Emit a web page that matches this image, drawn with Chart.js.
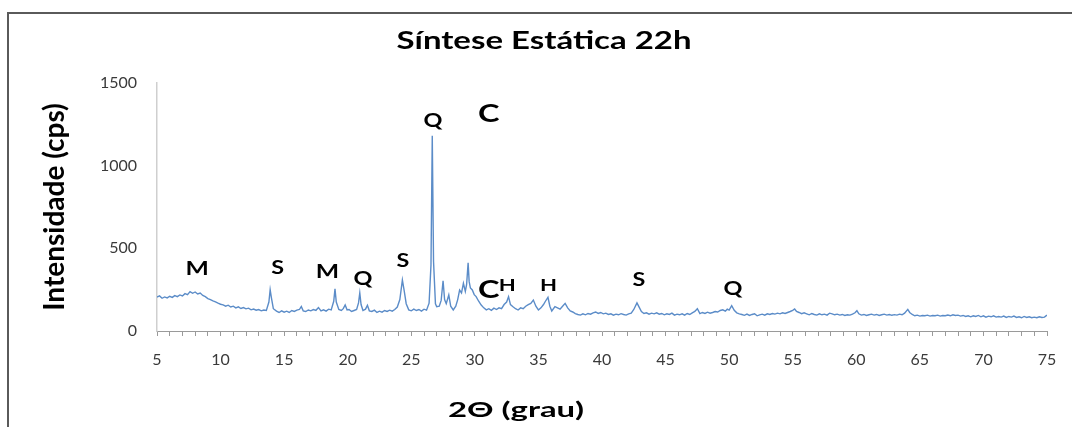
<!DOCTYPE html>
<html>
<head>
<meta charset="utf-8">
<script src="https://cdn.jsdelivr.net/npm/chart.js@4/dist/chart.umd.min.js"></script>
<style>
  html, body { margin: 0; padding: 0; background: #fff; }
  #wrap { width: 1072px; height: 427px; position: relative; }
</style>
</head>
<body>
<div id="wrap"><canvas id="xrdChart" width="1072" height="427"></canvas></div>
<script>
// 2θ (grau) and intensity (cps)
const twoTheta = [
  5.0, 5.2, 5.4, 5.6, 5.8, 6.0, 6.2, 6.4, 6.6, 6.8, 7.0, 7.2, 7.4, 7.6, 7.8, 8.0, 8.2, 8.4, 8.6, 8.8,
  9.0, 9.2, 9.4, 9.6, 9.8, 10.0, 10.2, 10.4, 10.6, 10.8, 11.0, 11.2, 11.4, 11.6, 11.8, 12.0, 12.2, 12.4, 12.6, 12.8,
  13.0, 13.2, 13.4, 13.6, 13.8, 13.9, 14.0, 14.15, 14.4, 14.6, 14.8, 15.0, 15.2, 15.4, 15.6, 15.8, 16.0, 16.2, 16.35, 16.5,
  16.7, 16.9, 17.1, 17.3, 17.5, 17.7, 17.9, 18.1, 18.3, 18.5, 18.7, 18.9, 19.0, 19.1, 19.3, 19.5, 19.65, 19.8, 19.95, 20.1,
  20.3, 20.5, 20.7, 20.85, 20.95, 21.05, 21.2, 21.4, 21.55, 21.7, 21.9, 22.1, 22.3, 22.5, 22.7, 22.9, 23.1, 23.3, 23.5, 23.7,
  23.9, 24.1, 24.3, 24.45, 24.6, 24.8, 25.0, 25.2, 25.4, 25.6, 25.8, 26.0, 26.2, 26.4, 26.55, 26.65, 26.75, 26.9, 27.0, 27.2,
  27.35, 27.5, 27.62, 27.75, 27.95, 28.1, 28.3, 28.5, 28.65, 28.8, 28.95, 29.1, 29.25, 29.35, 29.47, 29.55, 29.65, 29.8, 29.95, 30.1,
  30.3, 30.5, 30.7, 30.9, 31.1, 31.3, 31.5, 31.7, 31.9, 32.1, 32.3, 32.5, 32.65, 32.8, 33.0, 33.2, 33.4, 33.6, 33.8, 34.0,
  34.2, 34.4, 34.6, 34.8, 35.0, 35.2, 35.4, 35.55, 35.75, 35.9, 36.05, 36.3, 36.5, 36.7, 36.9, 37.1, 37.3, 37.5, 37.7, 37.9,
  38.1, 38.3, 38.5, 38.7, 38.9, 39.1, 39.3, 39.5, 39.7, 39.9, 40.1, 40.3, 40.5, 40.7, 40.9, 41.1, 41.3, 41.5, 41.7, 41.9,
  42.1, 42.3, 42.5, 42.75, 42.95, 43.1, 43.3, 43.5, 43.7, 43.9, 44.1, 44.3, 44.5, 44.7, 44.9, 45.1, 45.3, 45.5, 45.7, 45.9,
  46.1, 46.3, 46.5, 46.7, 46.9, 47.1, 47.3, 47.5, 47.7, 47.9, 48.1, 48.3, 48.5, 48.7, 48.9, 49.1, 49.3, 49.5, 49.7, 49.85,
  50.0, 50.2, 50.4, 50.6, 50.8, 51.0, 51.2, 51.4, 51.6, 51.8, 52.0, 52.2, 52.4, 52.6, 52.8, 53.0, 53.2, 53.4, 53.6, 53.8,
  54.0, 54.2, 54.4, 54.6, 54.8, 55.0, 55.15, 55.3, 55.5, 55.7, 55.9, 56.1, 56.3, 56.5, 56.7, 56.9, 57.1, 57.3, 57.5, 57.7,
  57.9, 58.1, 58.3, 58.5, 58.7, 58.9, 59.1, 59.3, 59.5, 59.7, 59.9, 60.05, 60.2, 60.4, 60.6, 60.8, 61.0, 61.2, 61.4, 61.6,
  61.8, 62.0, 62.2, 62.4, 62.6, 62.8, 63.0, 63.2, 63.4, 63.6, 63.8, 64.05, 64.2, 64.4, 64.6, 64.8, 65.0, 65.2, 65.4, 65.6,
  65.8, 66.0, 66.2, 66.4, 66.6, 66.8, 67.0, 67.2, 67.4, 67.6, 67.8, 68.0, 68.2, 68.4, 68.6, 68.8, 69.0, 69.2, 69.4, 69.6,
  69.8, 70.0, 70.2, 70.4, 70.6, 70.8, 71.0, 71.2, 71.4, 71.6, 71.8, 72.0, 72.2, 72.4, 72.6, 72.8, 73.0, 73.2, 73.4, 73.6,
  73.8, 74.0, 74.2, 74.4, 74.6, 74.8, 75.0
];
const intensity = [
  205, 212, 198, 206, 200, 210, 203, 214, 208, 218, 212, 226, 220, 238, 228, 236, 224, 230, 215, 208,
  196, 190, 182, 176, 168, 162, 158, 150, 156, 145, 150, 140, 146, 136, 142, 134, 138, 128, 133, 126,
  130, 122, 127, 124, 175, 250, 200, 135, 120, 112, 122, 114, 120, 112, 124, 118, 126, 130, 148, 122,
  118, 127, 122, 130, 125, 142, 122, 128, 120, 132, 128, 180, 255, 175, 130, 124, 135, 158, 128, 130,
  118, 124, 130, 170, 230, 160, 124, 132, 155, 122, 118, 126, 112, 120, 114, 124, 118, 126, 120, 130,
  145, 190, 308, 240, 165, 128, 122, 132, 124, 130, 120, 132, 126, 168, 400, 1181, 420, 165, 147, 150,
  185, 304, 190, 165, 218, 150, 127, 150, 190, 248, 230, 288, 240, 280, 413, 300, 260, 248, 220, 208,
  180, 157, 140, 128, 135, 125, 138, 130, 140, 135, 160, 175, 208, 160, 147, 135, 127, 140, 135, 150,
  160, 167, 187, 150, 127, 140, 160, 180, 204, 150, 121, 147, 140, 132, 150, 167, 140, 121, 115, 105,
  100, 96, 104, 98, 106, 102, 110, 115, 106, 112, 104, 108, 100, 104, 96, 102, 98, 105, 100, 96,
  104, 108, 130, 170, 140, 118, 106, 110, 102, 108, 104, 110, 102, 106, 98, 104, 100, 108, 96, 102,
  98, 104, 96, 106, 100, 110, 118, 135, 105, 112, 106, 114, 108, 112, 118, 115, 124, 128, 120, 132,
  126, 153, 125, 110, 104, 100, 95, 102, 94, 100, 104, 92, 98, 102, 96, 104, 100, 106, 102, 108,
  104, 110, 106, 112, 118, 125, 133, 118, 112, 105, 110, 104, 98, 106, 100, 96, 104, 98, 102, 96,
  108, 104, 98, 102, 96, 100, 94, 98, 96, 102, 110, 123, 104, 96, 100, 94, 98, 102, 96, 100,
  94, 98, 102, 96, 100, 95, 99, 96, 102, 98, 108, 131, 112, 100, 92, 96, 90, 94, 92, 96,
  90, 94, 92, 96, 90, 94, 92, 97, 92, 98, 94, 96, 90, 94, 88, 92, 86, 92, 88, 94,
  86, 92, 84, 90, 86, 92, 84, 88, 84, 90, 82, 88, 84, 90, 82, 86, 80, 88, 82, 86,
  80, 84, 80, 86, 82, 84, 96
];

// phase labels and where they sit (in data units)
const phaseLabels = ["M", "S", "M", "Q", "S", "Q", "C", "C", "H", "H", "S", "Q"];
const phaseLabelX = [8.15, 14.5, 18.4, 21.2, 24.35, 26.7, 31.1, 31.1, 32.55, 35.8, 42.9, 50.3];
const phaseLabelY = [375, 381, 357, 314, 423, 1270, 1315, 248, 278, 278, 308, 254];

const yTicks = [0, 500, 1000, 1500];

const fontFamily = "Lato, 'Open Sans', sans-serif";
const labelSize = { M: 19, S: 18, Q: 18, C: 25, H: 17 };
const stretchX = 1.3;

const points = twoTheta.map((x, i) => ({ x, y: intensity[i] }));

// draw text squeezed/stretched horizontally around its centre
function drawText(c, text, x, y, font, sx) {
  c.save();
  c.font = font;
  c.translate(x, y);
  c.scale(sx, 1);
  c.fillText(text, 0, 0);
  c.restore();
}

function fitScale(c, text, font, width) {
  c.save();
  c.font = font;
  const w = c.measureText(text).width;
  c.restore();
  return width / w;
}

const textPlugin = {
  id: "textPlugin",
  beforeDraw(chart) {
    const c = chart.ctx;
    c.save();
    c.strokeStyle = "#5a5a5a";
    c.lineWidth = 2;
    c.beginPath();
    c.moveTo(8, 427);
    c.lineTo(8, 13);
    c.lineTo(1072, 13);
    c.stroke();
    c.restore();
  },
  afterDraw(chart) {
    const c = chart.ctx;
    const xs = chart.scales.x;
    const ys = chart.scales.y;
    c.save();
    c.fillStyle = "#000";
    c.textAlign = "center";
    c.textBaseline = "middle";

    const titleFont = "bold 25px " + fontFamily;
    drawText(c, "Síntese Estática 22h", 544, 41, titleFont,
      fitScale(c, "Síntese Estática 22h", titleFont, 295));
    const xTitleFont = "bold 21px " + fontFamily;
    drawText(c, "2Θ (grau)", 516, 410, xTitleFont,
      fitScale(c, "2Θ (grau)", xTitleFont, 136));

    c.save();
    c.translate(55, 207);
    c.rotate(-Math.PI / 2);
    c.font = "bold 28px " + fontFamily;
    c.fillText("Intensidade (cps)", 0, 0);
    c.restore();

    phaseLabels.forEach((t, i) => {
      drawText(c, t, xs.getPixelForValue(phaseLabelX[i]), ys.getPixelForValue(phaseLabelY[i]),
        "bold " + labelSize[t] + "px " + fontFamily, stretchX);
    });
    c.restore();
  },
};

new Chart(document.getElementById("xrdChart"), {
  type: "line",
  data: {
    datasets: [
      {
        label: "Síntese Estática 22h",
        data: points,
        borderColor: "#5b8cc8",
        borderWidth: 1.4,
        tension: 0,
        pointRadius: 0,
      },
    ],
  },
  options: {
    responsive: false,
    animation: false,
    layout: {
      padding: { top: 83, right: 25, left: 0, bottom: 0 },
    },
    plugins: {
      legend: { display: false },
      title: { display: false },
      tooltip: { enabled: false },
    },
    scales: {
      x: {
        type: "linear",
        min: 5,
        max: 75,
        afterFit: (scale) => { scale.height = 96; },
        ticks: {
          stepSize: 1,
          autoSkip: false,
          maxRotation: 0,
          padding: 14,
          color: "#3a3a3a",
          font: { family: fontFamily, size: 16 },
          callback: (value) => (value % 5 === 0 ? String(value) : ""),
        },
        grid: {
          drawOnChartArea: false,
          tickLength: 5,
          color: "#9a9a9a",
        },
        border: { color: "#9a9a9a", width: 1 },
      },
      y: {
        min: 0,
        max: 1500,
        afterFit: (scale) => { scale.width = 157; },
        afterBuildTicks: (axis) => {
          axis.ticks = yTicks.map((value) => ({ value }));
        },
        ticks: {
          padding: 20,
          color: "#3a3a3a",
          font: { family: fontFamily, size: 16 },
          callback: (value) => String(value),
        },
        grid: { display: false, drawTicks: false },
        border: { color: "#cfcfcf", width: 1.5 },
      },
    },
  },
  plugins: [textPlugin],
});
</script>
</body>
</html>
